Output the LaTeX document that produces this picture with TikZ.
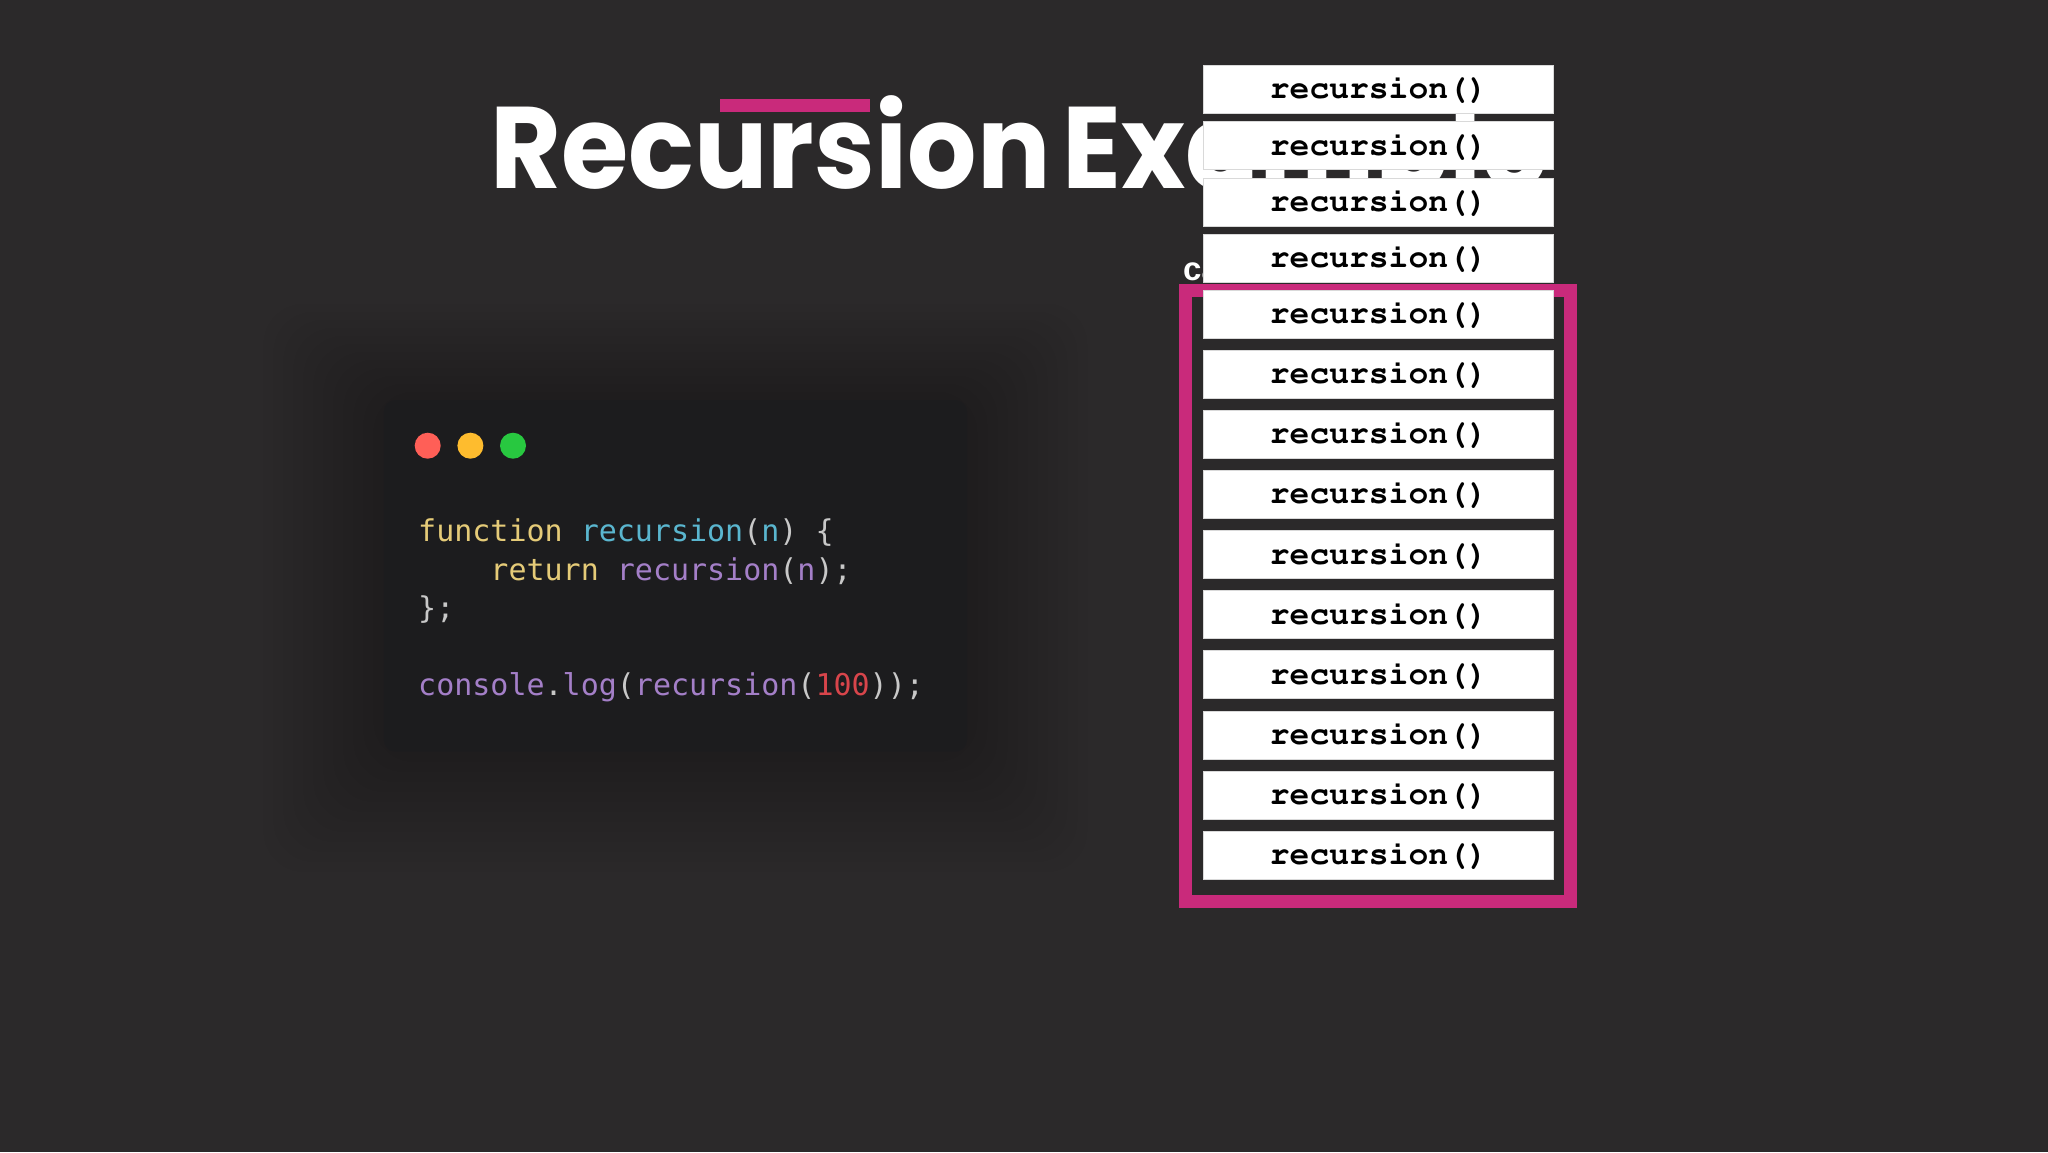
\documentclass[tikz,border=0pt]{standalone}
\usepackage[T1,TU]{fontenc}
\usepackage{fontspec}
\setmainfont{Liberation Sans}
\newfontfamily\titlefont{Poppins}
\newfontfamily\codefont{DejaVu Sans Mono}
\newcommand\stackfont{\fontencoding{T1}\fontfamily{pcr}\fontseries{b}\selectfont}
\definecolor{bg}{HTML}{2B292A}
\definecolor{win}{HTML}{1C1C1E}
\definecolor{hot}{HTML}{C92A7B}
\definecolor{kw}{HTML}{E5CB78}
\definecolor{fn}{HTML}{5AB6CF}
\definecolor{id}{HTML}{A47FC8}
\definecolor{num}{HTML}{D8454B}
\definecolor{pn}{HTML}{C8C8C8}
\definecolor{lightred}{HTML}{FF5F57}
\definecolor{lightamber}{HTML}{FEBC2E}
\definecolor{lightgreen}{HTML}{28C840}
\tikzset{
  stackbox/.style={fill=white,draw=black!15,line width=1pt,minimum width=350pt,minimum height=48pt,inner sep=0pt,
    font=\fontsize{33}{33}\stackfont},
  codeline/.style={anchor=base west,inner sep=0pt,text=pn,font=\codefont\fontsize{30}{30}\selectfont},
  light/.style={circle,minimum size=26pt,inner sep=0pt}
}
\begin{document}
\begin{tikzpicture}[x=1pt,y=-1pt]
		\fill[bg] (0,0) rectangle (2048,1152);
		% shadow of the code window
		\foreach \s in {10,20,...,120}
			\fill[black,opacity=0.014,rounded corners=40pt] (383.8-\s,400-0.8*\s) rectangle (967+\s,751.7+\s);
		\fill[win,rounded corners=12pt] (383.8,400) rectangle (967,751.7);
		\node[light,fill=lightred] (red) at (427.7,445.7) {};
		\node[light,fill=lightamber] (amber) at (470.4,445.7) {};
		\node[light,fill=lightgreen] (green) at (513,445.7) {};
		\node[codeline] (l1) at (418,541.7) {\textcolor{kw}{function} \textcolor{fn}{recursion}(\textcolor{fn}{n}) \{};
		\node[codeline] (l2) at (418,580.2) {\phantom{xxxx}\textcolor{kw}{return} \textcolor{id}{recursion}(\textcolor{id}{n});};
		\node[codeline] (l3) at (418,618.7) {\};};
		\node[codeline] (l4) at (418,695.7) {\textcolor{id}{console}.\textcolor{id}{log}(\textcolor{id}{recursion}(\textcolor{num}{100}));};
		% title and label
		\node[anchor=base west,inner sep=0pt,xscale=0.94,text=white,font=\titlefont\bfseries\fontsize{116}{116}\selectfont] (title) at (490,188) {Recursion\hspace{-0.1em} Example};
		\fill[hot] (720,99) rectangle (870,112);
		\node[anchor=base west,inner sep=0pt,text=white,font=\bfseries\fontsize{33}{33}\selectfont] (label) at (1183,280) {call stack};
		\draw[hot,line width=13pt] (1185.7,290.7) rectangle (1570.3,901.7);
		% stack frames
		\foreach \k in {0,...,3}
			\node[stackbox,anchor=north west] (f\k) at (1203.3,65+56.3*\k) {recursion()};
		\foreach \k in {0,...,9}
			\node[stackbox,anchor=north west] (g\k) at (1203.3,290+60.08*\k) {recursion()};
		\end{tikzpicture}
\end{document}
